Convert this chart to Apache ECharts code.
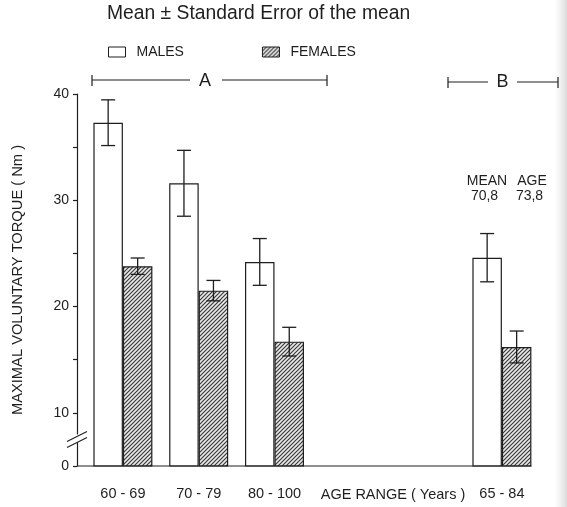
<!DOCTYPE html>
<html>
<head>
<meta charset="utf-8">
<title>Maximal voluntary torque by age range</title>
<script src="https://cdn.jsdelivr.net/npm/echarts@6/dist/echarts.min.js"></script>
<style>
  html, body { margin: 0; padding: 0; background: #ffffff; }
  #chart { width: 567px; height: 507px; }
</style>
</head>
<body>
<div id="chart"></div>
<script>
// Age-range categories (two blank slots separate group A from group B)
const categories = ['60 - 69', '70 - 79', '80 - 100', '', '', '65 - 84'];

// Mean maximal voluntary torque (Nm) and standard error of the mean
const maleMean   = [37.3, 31.6, 24.2, null, null, 24.6];
const maleSE     = [2.15, 3.1, 2.2, null, null, 2.27];
const femaleMean = [23.8, 21.5, 16.7, null, null, 16.2];
const femaleSE   = [0.77, 0.96, 1.35, null, null, 1.5];

// Broken value axis: the bottom of the axis stands for 0, the rest is linear
const yTickValues = [5, 10, 15, 20, 25, 30, 35, 40];
const yTickLabels = ['0', '10', '', '20', '', '30', '', '40'];

// Mean ages of group B
const meanAgeLabels = ['70,8', '73,8'];

const FONT = '"Liberation Sans", Arial, Helvetica, sans-serif';
const INK = '#1e1e1e';
const BAR_W = 29.5;
const CAP = 7;

// Diagonal hatch used for the female bars
function hatchPattern() {
  const c = document.createElement('canvas');
  c.width = 4; c.height = 4;
  const g = c.getContext('2d');
  g.fillStyle = '#eaeaea';
  g.fillRect(0, 0, 4, 4);
  g.strokeStyle = '#363636';
  g.lineWidth = 1.15;
  g.beginPath();
  g.moveTo(-1, 5); g.lineTo(5, -1);
  g.moveTo(-1, 1); g.lineTo(1, -1);
  g.moveTo(3, 5); g.lineTo(5, 3);
  g.stroke();
  return { image: c, repeat: 'repeat' };
}

function errorBars(name, mean, se, side) {
  const data = [];
  mean.forEach((m, i) => { if (m != null) data.push([i, m, se[i]]); });
  return {
    type: 'custom',
    name: name,
    z: 5,
    silent: true,
    data: data,
    renderItem: function (params, api) {
      const i = api.value(0), m = api.value(1), e = api.value(2);
      const top = api.coord([i, m + e]);
      const bot = api.coord([i, m - e]);
      const cx = top[0] + side * BAR_W / 2;
      const st = { stroke: INK, lineWidth: 1.3 };
      return {
        type: 'group',
        children: [
          { type: 'line', shape: { x1: cx, y1: top[1], x2: cx, y2: bot[1] }, style: st },
          { type: 'line', shape: { x1: cx - CAP, y1: top[1], x2: cx + CAP, y2: top[1] }, style: st },
          { type: 'line', shape: { x1: cx - CAP, y1: bot[1], x2: cx + CAP, y2: bot[1] }, style: st }
        ]
      };
    }
  };
}

const chart = echarts.init(document.getElementById('chart'), null, { renderer: 'canvas' });
const hatch = hatchPattern();

chart.setOption({
  backgroundColor: '#ffffff',
  animation: false,
  textStyle: { fontFamily: FONT, color: INK },
  title: {
    text: 'Mean \u00b1 Standard Error of the mean',
    left: 107, top: 4, padding: 0,
    textStyle: { fontFamily: FONT, fontSize: 19.3, fontWeight: 'normal', color: INK }
  },
  legend: {
    data: ['MALES', 'FEMALES'],
    left: 108, top: 45, padding: 0,
    icon: 'rect',
    itemWidth: 17, itemHeight: 10,
    itemGap: 78,
    selectedMode: false,
    itemStyle: { borderWidth: 1, borderColor: INK },
    textStyle: { fontFamily: FONT, fontSize: 14, color: INK, padding: [0, 0, 0, 6] }
  },
  grid: { left: 85, top: 94, width: 454.8, height: 372 },
  xAxis: {
    type: 'category',
    data: categories,
    axisLine: { show: false },
    axisTick: { show: false },
    axisLabel: { margin: 20, fontSize: 14.5, color: INK, fontFamily: FONT, interval: 0 }
  },
  yAxis: {
    type: 'value',
    min: 5, max: 40, interval: 5,
    offset: 8,
    name: 'MAXIMAL VOLUNTARY TORQUE ( Nm )',
    nameLocation: 'middle',
    nameGap: 52,
    nameTextStyle: { fontFamily: FONT, fontSize: 14.7, color: INK },
    splitLine: { show: false },
    axisLine: { show: true, lineStyle: { color: INK, width: 1.2 } },
    axisTick: { show: true, inside: false, length: 4, lineStyle: { color: INK, width: 1.2 } },
    axisLabel: {
      margin: 8, fontSize: 14, color: INK, fontFamily: FONT,
      formatter: function (v) {
        const k = yTickValues.indexOf(v);
        return k >= 0 ? yTickLabels[k] : '';
      }
    }
  },
  series: [
    {
      name: 'MALES', type: 'bar', data: maleMean,
      barWidth: BAR_W, barGap: '0%',
      itemStyle: { color: '#ffffff', borderColor: INK, borderWidth: 1.2 }
    },
    {
      name: 'FEMALES', type: 'bar', data: femaleMean,
      barWidth: BAR_W, barGap: '0%',
      itemStyle: { color: hatch, borderColor: INK, borderWidth: 1.2 }
    },
    errorBars('MALES SEM', maleMean, maleSE, -1),
    errorBars('FEMALES SEM', femaleMean, femaleSE, 1)
  ]
});

// Axis baseline, axis break mark and group annotations
(function addAnnotations() {
  const px = (c, v) => chart.convertToPixel({ gridIndex: 0 }, [c, v]);
  const axisX = 85 - 8;
  const baseY = px(0, 5)[1];
  const lastRight = px(5, 5)[0] + BAR_W;
  const y10 = px(0, 10)[1];
  const brk = (y10 + baseY) / 2;
  const line = (x1, y1, x2, y2) => ({
    type: 'line', shape: { x1, y1, x2, y2 },
    style: { stroke: INK, lineWidth: 1.2 }, z: 10
  });
  const text = (t, x, y, size, align) => ({
    type: 'text', x, y, z: 10,
    style: { text: t, fontFamily: FONT, fontSize: size, fill: INK, align: align || 'center', verticalAlign: 'middle' }
  });

  const els = [
    line(axisX, baseY, lastRight, baseY),
    // break in the value axis
    { type: 'rect', shape: { x: axisX - 3, y: brk - 5, width: 6, height: 8 }, style: { fill: '#ffffff' }, z: 9 },
    line(axisX - 10, brk + 2, axisX + 10, brk - 8),
    line(axisX - 10, brk + 8, axisX + 10, brk - 2),
    // group A bracket
    line(92, 80, 190, 80), line(222, 80, 327, 80),
    line(92, 75, 92, 86), line(327, 75, 327, 86),
    text('A', 205, 81, 18),
    // group B bracket
    line(448, 82, 488, 82), line(517, 82, 558, 82),
    line(448, 77, 448, 88), line(558, 77, 558, 88),
    text('B', 502.5, 82, 18),
    // mean age of group B
    text('MEAN', 487, 181, 14), text('AGE', 532, 181, 14),
    text(meanAgeLabels[0], 484.5, 196, 14), text(meanAgeLabels[1], 529.5, 196, 14),
    // x axis title
    text('AGE RANGE ( Years )', 393, px(0, 5)[1] + 28.5, 14.5),
    // soft grey shading along the right edge of the page
    {
      type: 'rect', z: -1, silent: true,
      shape: { x: 555, y: 0, width: 12, height: 507 },
      style: {
        fill: new echarts.graphic.LinearGradient(0, 0, 1, 0, [
          { offset: 0, color: 'rgba(225,225,225,0)' },
          { offset: 1, color: 'rgba(215,215,215,0.9)' }
        ])
      }
    }
  ];
  chart.setOption({ graphic: { elements: els } });
})();
</script>
</body>
</html>
